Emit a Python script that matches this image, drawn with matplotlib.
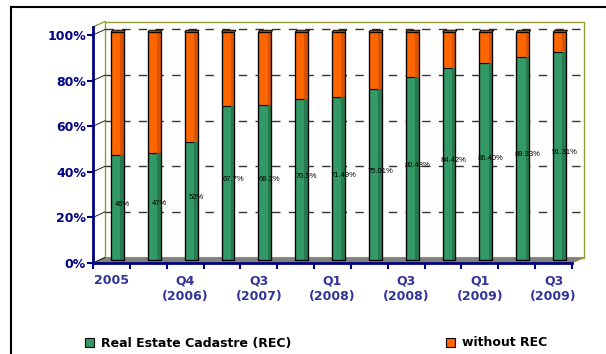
import numpy as np
import matplotlib.pyplot as plt
from matplotlib.patches import Rectangle, Polygon, Patch
from matplotlib.lines import Line2D
from matplotlib.transforms import offset_copy, IdentityTransform

plt.rcParams['font.family'] = ['DejaVu Sans']

periods = ['2005', '', 'Q4\n(2006)', '', 'Q3\n(2007)', '', 'Q1\n(2008)', '',
           'Q3\n(2008)', '', 'Q1\n(2009)', '', 'Q3\n(2009)']
rec = [46, 47, 52, 67.7, 68.2, 70.5, 71.49, 75.01, 80.48, 84.42, 86.40, 89.33, 91.31]
rec_labels = ['46%', '47%', '52%', '67.7%', '68.2%', '70.5%', '71.49%', '75.01%',
              '80.48%', '84.42%', '86.40%', '89.33%', '91.31%']
yticks = [0, 20, 40, 60, 80, 100]

green, green_dk = '#339966', '#257a4f'
orange, orange_dk = '#ff6600', '#d85400'
navy = '#000080'
olive = '#999933'

n = len(rec)
fig = plt.figure(figsize=(6.06, 3.54), dpi=100)
ax = fig.add_axes([93 / 606, 91 / 354, 479 / 606, 236 / 354])
ax.set_xlim(0, n)
ax.set_ylim(0, 103.5)
ax.patch.set_visible(False)

# depth offsets (pixels) for back wall and bar plane
DX, DY = 12, 5.5
back = offset_copy(ax.transData, fig=fig, x=DX, y=DY, units='dots')
mid = offset_copy(ax.transData, fig=fig, x=DX / 2, y=DY / 2, units='dots')


def px(x, y, dx=0, dy=0):
    p = ax.transData.transform((x, y))
    return (p[0] + dx, p[1] + dy)


# back wall, floor and gridlines
ax.add_patch(Rectangle((0, 0), n, 103.5, transform=back, facecolor='white',
                       edgecolor=olive, lw=1, zorder=0, clip_on=False))
floor = [px(0, 0), px(n, 0), px(n, 0, DX, DY), px(0, 0, DX, DY)]
ax.add_patch(Polygon(floor, closed=True, transform=IdentityTransform(),
                     facecolor='#808080', edgecolor=olive, lw=0.8, zorder=1, clip_on=False))
for t in yticks[1:]:
    ax.plot([0, n], [t, t], transform=back, color='#333333', lw=1,
            dashes=(6, 6), zorder=1, clip_on=False)
for t in yticks:
    a, b = px(0, t), px(0, t, DX, DY)
    ax.add_line(Line2D([a[0], b[0]], [a[1], b[1]], transform=IdentityTransform(),
                       color='black', lw=0.6, zorder=1, clip_on=False))
a, b = px(0, 103.5), px(0, 103.5, DX, DY)
ax.add_line(Line2D([a[0], b[0]], [a[1], b[1]], transform=IdentityTransform(),
                   color=olive, lw=1, zorder=1, clip_on=False))

# stacked columns
w = 0.35
for i, v in enumerate(rec):
    x0 = i + 0.5 - w / 2
    ax.bar(i + 0.5, v, width=w, transform=mid, color=green, edgecolor='black',
           lw=0.8, zorder=3, clip_on=False)
    ax.bar(i + 0.5, 100 - v, bottom=v, width=w, transform=mid, color=orange,
           edgecolor='black', lw=0.8, zorder=3, clip_on=False)
    ax.add_patch(Rectangle((x0 + w * 0.72, 0), w * 0.28, v, transform=mid,
                           facecolor=green_dk, lw=0, zorder=3.5, clip_on=False))
    ax.add_patch(Rectangle((x0 + w * 0.72, v), w * 0.28, 100 - v, transform=mid,
                           facecolor=orange_dk, lw=0, zorder=3.5, clip_on=False))
    ax.add_patch(Rectangle((x0, 0), w, 100, transform=mid, fill=False,
                           edgecolor='black', lw=0.9, zorder=3.6, clip_on=False))
    cap = [px(x0, 100, DX / 2, DY / 2), px(x0 + w, 100, DX / 2, DY / 2),
           px(x0 + w, 100, DX / 2 + 1.5, DY / 2 + 2), px(x0, 100, DX / 2 + 1.5, DY / 2 + 2)]
    ax.add_patch(Polygon(cap, closed=True, transform=IdentityTransform(),
                         facecolor=orange_dk, edgecolor='black', lw=0.7, zorder=3.7,
                         clip_on=False))
    ax.text(i + 0.5, v / 2 + 1.5, rec_labels[i],
            transform=offset_copy(mid, fig=fig, x=5, y=0, units='dots'),
            ha='center', va='center', fontsize=5.5, family='Liberation Sans',
            color='black', zorder=5)

# axes styling
for s in ['top', 'right']:
    ax.spines[s].set_visible(False)
for s in ['left', 'bottom']:
    ax.spines[s].set_color(navy)
    ax.spines[s].set_linewidth(2)
    ax.spines[s].set_zorder(6)
ax.set_yticks(yticks)
ax.set_yticklabels([f'{t}%' for t in yticks], fontsize=9, fontweight='bold', color=navy)
ax.tick_params(axis='y', length=4, width=1.5, color=navy, pad=1)
ax.set_xticks(np.arange(n + 1))
ax.set_xticklabels([])
ax.tick_params(axis='x', which='major', length=4, width=1.5, color=navy)
ax.set_xticks(np.arange(n) + 0.5, minor=True)
ax.set_xticklabels(periods, minor=True, fontsize=9, fontweight='bold',
                   color='#333399', linespacing=1.25)
ax.tick_params(axis='x', which='minor', length=0, pad=8)

# outer frame
fig.add_artist(Line2D([11 / 606, 11 / 606], [0, 1 - 7 / 354], color='black', lw=1.5))
fig.add_artist(Line2D([11 / 606, 1], [1 - 7 / 354, 1 - 7 / 354], color='black', lw=1.5))

handles = [Patch(facecolor=green, edgecolor='black', lw=0.8),
           Patch(facecolor=orange, edgecolor='black', lw=0.8)]
fig.legend(handles, ['Real Estate Cadastre (REC)', 'without REC'], ncol=2,
           loc='center left', bbox_to_anchor=(85 / 606, 1 - 343 / 354), frameon=False,
           prop={'size': 9, 'weight': 'bold'}, handlelength=0.75, handleheight=0.75,
           handletextpad=0.5, columnspacing=12.4, borderpad=0, borderaxespad=0)

fig.savefig('out.png', dpi=100)
